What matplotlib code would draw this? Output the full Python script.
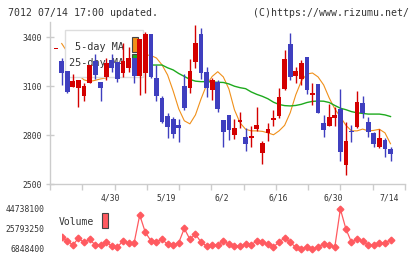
import numpy as np
import matplotlib
matplotlib.use("Agg")
import matplotlib.pyplot as plt
from matplotlib.patches import Rectangle
from matplotlib.transforms import Affine2D

plt.rcParams['font.family'] = ['DejaVu Sans Mono']

# daily candles, first row is the partly visible day before 4/17
opens = [3330, 3255, 3194, 3098, 3091, 3042, 3122, 3255, 3128, 3159, 3261,
         3251, 3180, 3214, 3271, 3165, 3180, 3418, 3149, 3027, 2918,
         2898, 2863, 3102, 3088, 3247, 3418, 3189, 3077, 3128, 2894,
         2924, 2798, 2880, 2788, 2785, 2839, 2690, 2812, 2894, 2920,
         3083, 3359, 3163, 3145, 3279, 3047, 3114, 2877, 2853, 2908,
         2961, 2618, 2826, 2847, 2996, 2883, 2812, 2727, 2771, 2716]
highs = [3330, 3271, 3194, 3173, 3139, 3122, 3230, 3296, 3128, 3275, 3296,
         3251, 3363, 3342, 3271, 3390, 3434, 3418, 3230, 3041, 2935,
         2914, 2898, 3173, 3267, 3475, 3455, 3216, 3149, 3139, 2894,
         2924, 2898, 2941, 2843, 2853, 2973, 2765, 2877, 2955, 3088,
         3322, 3428, 3220, 3261, 3279, 3118, 3114, 2924, 2992, 2975,
         3083, 2883, 2863, 3071, 3041, 2910, 2822, 2837, 2782, 2730]
lows = [3330, 3108, 3057, 3098, 2975, 3010, 3122, 3145, 3010, 3139, 3186,
        3128, 3159, 3186, 3118, 3047, 3061, 3149, 3010, 2875, 2785,
        2782, 2757, 2955, 3057, 3214, 3145, 3036, 3016, 2941, 2730,
        2771, 2777, 2843, 2704, 2724, 2826, 2624, 2765, 2853, 2904,
        3077, 3139, 3122, 3108, 3053, 2986, 2938, 2791, 2853, 2857,
        2643, 2557, 2755, 2843, 2908, 2791, 2730, 2720, 2663, 2643]
closes = [3330, 3183, 3067, 3132, 3139, 3102, 3230, 3169, 3091, 3244, 3214,
          3145, 3255, 3271, 3165, 3390, 3418, 3159, 3042, 2883, 2847,
          2806, 2843, 2969, 3194, 3363, 3180, 3088, 3139, 2959, 2822,
          2832, 2843, 2894, 2747, 2796, 2863, 2751, 2837, 2904, 3036,
          3267, 3159, 3194, 3244, 3077, 3061, 2938, 2832, 2914, 2924,
          2694, 2765, 2816, 3004, 2935, 2822, 2745, 2782, 2714, 2687]

ma5 = [np.nan, 3362, 3310, 3249, 3169, 3139, 3129, 3136, 3145, 3151, 3188,
       3212, 3237, 3249, 3261, 3279, 3292, 3289, 3273, 3231, 3169,
       3071, 2961, 2888, 2869, 2924, 3022, 3108, 3160, 3189, 3157,
       3083, 2955, 2875, 2836, 2826, 2826, 2823, 2814, 2802, 2826,
       2860, 2937, 3047, 3132, 3175, 3181, 3157, 3108, 3028, 2961,
       2912, 2860, 2826, 2826, 2837, 2826, 2829, 2836, 2814, 2747]
ma25 = [np.nan] * 17 + [3230, 3230, 3230, 3213, 3200, 3178, 3160, 3142, 3131,
                        3128, 3128, 3126, 3124, 3123, 3114, 3100, 3091, 3085,
                        3065, 3050, 3038, 3023, 3002, 2988, 2981, 2979, 2982,
                        2989, 3000, 3007, 3009, 3008, 3000, 2982, 2965, 2956,
                        2944, 2937, 2933, 2929, 2929, 2929, 2924, 2914]

volume = [np.nan, 17900000, 14700000, 10600000, 17000000, 13200000, 16300000,
          10600000, 10600000, 13200000, 9700000, 8500000, 14700000, 12800000,
          12800000, 39000000, 22700000, 14700000, 13800000, 16000000, 11300000,
          10600000, 12800000, 26400000, 16000000, 21100000, 13200000, 9700000,
          10600000, 10600000, 14400000, 11600000, 9700000, 9700000, 11600000,
          10600000, 14700000, 13200000, 11600000, 9000000, 13200000, 17500000,
          13200000, 8500000, 7100000, 9000000, 6848400, 9000000, 11600000,
          10600000, 8500000, 44738100, 25800000, 13200000, 16300000, 14400000,
          10600000, 10600000, 12200000, 12800000, 15400000]

date_labels = ["4/30", "5/19", "6/2", "6/16", "6/30", "7/14"]
date_pos = [9, 19, 29, 39, 49, 59]
price_ticks = [2500, 2800, 3100, 3400]

RED, BLUE = "#d40000", "#3f3fbf"
ORANGE, GREEN, VOLC = "#f0901a", "#1eaa1e", "#ff5a60"
GRID, TXT = "#cccccc", "#333333"

W, H = 420, 259
fig = plt.figure(figsize=(W / 100, H / 100), dpi=100)
pix = Affine2D().scale(1 / W, -1 / H).translate(0, 1) + fig.transFigure


def fax(l, t, r, b):
    return [l / W, 1 - b / H, (r - l) / W, (b - t) / H]


x = np.arange(len(closes)) - 1
o, h, l, c = map(np.array, (opens, highs, lows, closes))
up = c >= o
cols = np.where(up, RED, BLUE)

ax = fig.add_axes(fax(50, 22, 405, 184))
ax.set_xlim(-2.1, 61.6)
ax.set_ylim(2500, 3494)

ax.plot(x, ma5, color=ORANGE, lw=0.8, zorder=2)
ax.plot(x, ma25, color=GREEN, lw=1.0, zorder=2)

# legend box sits above the MA lines but below the candles
ax.add_patch(Rectangle((65, 30), 78, 46.7, transform=pix, fc="white",
                       ec="#dddddd", lw=1, zorder=3, clip_on=False))
ax.text(124, 46.5, "5-day MA", transform=pix, ha="right", va="center",
        fontsize=7.3, color=TXT, zorder=3.1)
ax.text(124, 63, "25-day MA", transform=pix, ha="right", va="center",
        fontsize=7.3, color=TXT, zorder=3.1)
ax.add_patch(Rectangle((131.7, 37.3), 6, 15, transform=pix, fc=ORANGE,
                       ec="#444444", lw=0.8, zorder=3.2, clip_on=False))
ax.add_patch(Rectangle((131.7, 54.3), 6, 15, transform=pix, fc=GREEN,
                       ec="#444444", lw=0.8, zorder=3.2, clip_on=False))

ax.vlines(x, l, h, colors=cols, lw=1, zorder=4)
ax.bar(x, np.maximum(np.abs(c - o), 5), bottom=np.minimum(o, c), width=0.85,
       color=cols, lw=0, zorder=4.5)

for s in ["top", "right"]:
    ax.spines[s].set_visible(False)
for s in ["left", "bottom"]:
    ax.spines[s].set_color(GRID)
    ax.spines[s].set_linewidth(1)
ax.set_yticks(price_ticks)
ax.set_yticklabels([str(t) for t in price_ticks])
ax.tick_params(axis="y", direction="inout", length=6, width=1, color=GRID,
               labelsize=5.8, labelcolor=TXT, pad=3)
ax.set_xticks(np.linspace(-2.1, 61.6, 12))
ax.set_xticklabels([])
ax.tick_params(axis="x", direction="out", length=4.3, width=1, color=GRID)
for lab, p in zip(date_labels, date_pos):
    ax.text(p - 0.2, -14 / 162, lab, transform=ax.get_xaxis_transform(),
            ha="center", va="center", fontsize=5.8, color=TXT)

# volume panel
vol = np.array(volume, dtype=float)
vmin, vmax = np.nanmin(vol), np.nanmax(vol)
vax = fig.add_axes(fax(61.7, 204, 405, 254))
vax.set_xlim(0, 61.6)
pad = (vmax - vmin) * 5 / 40
vax.set_ylim(vmin - pad, vmax + pad)
vax.plot(x, vol, color=VOLC, lw=0.9, marker="D", ms=3.4, mec=VOLC, mfc=VOLC)
for s in vax.spines.values():
    s.set_visible(False)
vax.set_xticks([])
vticks = [vmin, (vmin + vmax) / 2, vmax]
vax.set_yticks(vticks)
vax.set_yticklabels([f"{int(v)}" for v in vticks])
vax.tick_params(axis="y", length=0, pad=12.5, labelsize=5.8, labelcolor=TXT)
vax.text(59, 222, "Volume", transform=pix, ha="left", va="center",
         fontsize=7, color=TXT)
vax.add_patch(Rectangle((102, 213), 6, 15, transform=pix, fc=VOLC,
                        ec="#444444", lw=0.8, clip_on=False))

fig.text(8 / W, 1 - 13 / H, "7012 07/14 17:00 updated.", ha="left",
         va="center", fontsize=7.1, color=TXT)
fig.text(409 / W, 1 - 13 / H, "(C)https://www.rizumu.net/", ha="right",
         va="center", fontsize=7.1, color=TXT)

fig.savefig("out.png", dpi=100)
